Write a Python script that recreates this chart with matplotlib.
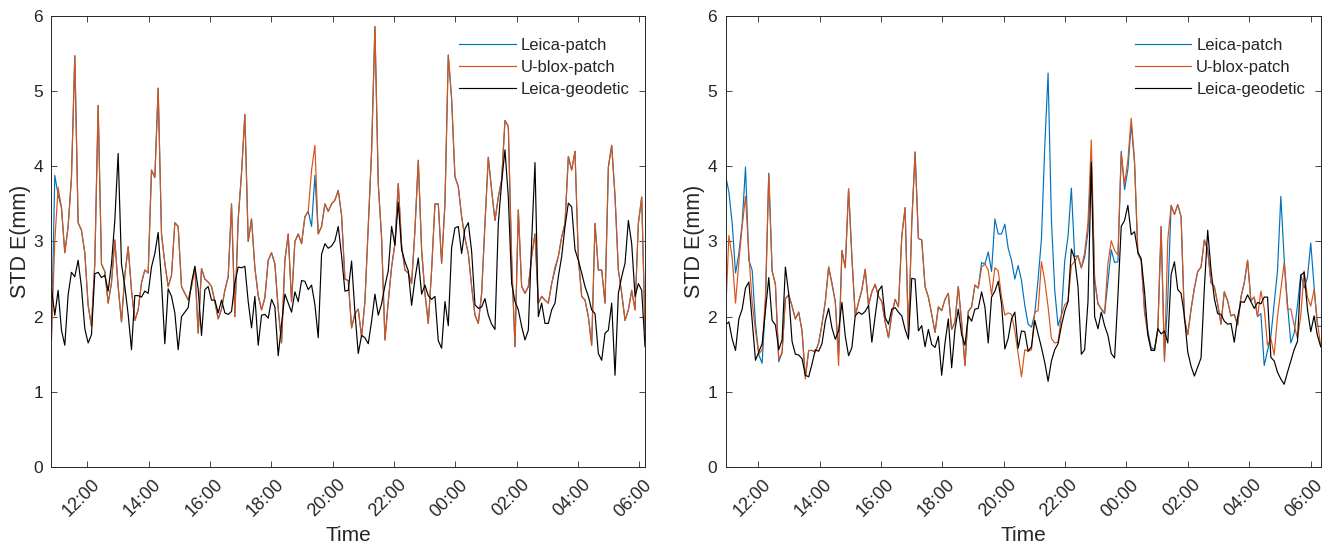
import matplotlib
matplotlib.use("Agg")
import matplotlib.pyplot as plt
import matplotlib.dates as mdates
from matplotlib.transforms import ScaledTranslation
import pandas as pd

plt.rcParams['font.family'] = ['Liberation Sans', 'DejaVu Sans']

series_names = ["Leica-patch", "U-blox-patch", "Leica-geodetic"]
series_colors = ["#0072BD", "#D95319", "#000000"]

# evenly sampled epochs, first and last sample of each session
left_start, left_end = "2021-06-01 10:50", "2021-06-02 06:11"
right_start, right_end = "2021-06-01 10:56", "2021-06-02 06:20"

# ---- session 1 (left panel), STD E in mm ----
ublox_left = [
    1.70, 3.00, 3.72, 3.45, 2.85, 3.20, 3.85, 5.47, 3.25, 3.15, 2.85, 2.15, 1.87, 2.71, 4.81,
    2.70, 2.60, 2.18, 2.45, 3.02, 2.40, 1.93, 2.55, 2.93, 2.35, 1.95, 2.09, 2.45, 2.62, 2.58,
    3.95, 3.85, 5.04, 3.10, 2.71, 2.40, 2.55, 3.25, 3.20, 2.40, 2.31, 2.22, 2.40, 2.66, 1.78,
    2.64, 2.50, 2.46, 2.40, 2.20, 1.97, 2.10, 2.35, 2.53, 3.50, 2.00, 3.30, 3.91, 4.69, 3.00,
    3.30, 2.65, 2.28, 2.09, 2.25, 2.75, 2.85, 2.70, 2.10, 1.65, 2.75, 3.10, 2.20, 3.00, 3.10,
    2.97, 3.33, 3.40, 3.95, 4.28, 3.10, 3.20, 3.50, 3.40, 3.50, 3.55, 3.68, 3.35, 2.50, 2.48,
    1.85, 2.04, 2.10, 1.73, 2.20, 3.20, 4.20, 5.86, 3.77, 3.05, 1.69, 2.20, 2.66, 2.97, 3.77,
    2.95, 2.62, 2.58, 2.44, 3.15, 4.08, 2.89, 2.31, 1.91, 2.62, 3.50, 3.50, 2.71, 3.50, 5.48,
    4.90, 3.86, 3.73, 3.33, 3.04, 2.84, 2.40, 2.02, 1.91, 2.31, 3.24, 4.12, 3.68, 3.28,
    3.59, 3.82, 4.61, 4.53, 2.80, 1.60, 3.42, 2.40, 2.31, 2.40, 2.80, 3.10, 2.18, 2.27, 2.22,
    2.18, 2.44, 2.66, 2.80, 3.06, 3.24, 4.13, 3.95, 4.20, 2.78, 2.27, 2.22, 2.00, 1.62, 3.24,
    2.62, 2.62, 2.18, 3.99, 4.28, 3.60, 2.62, 2.31, 1.95, 2.09, 2.35, 2.09, 3.24, 3.59, 1.82,
]
leica_patch_left = [
    1.70, 3.88, 3.62, 3.45, 2.85, 3.20, 3.85, 5.47, 3.25, 3.15, 2.85, 2.15, 1.87, 2.71, 4.81,
    2.70, 2.60, 2.18, 2.45, 3.02, 2.40, 1.93, 2.55, 2.93, 2.35, 1.95, 2.09, 2.45, 2.62, 2.58,
    3.95, 3.85, 5.04, 3.10, 2.71, 2.40, 2.55, 3.25, 3.20, 2.40, 2.31, 2.22, 2.40, 2.66, 1.78,
    2.64, 2.50, 2.46, 2.40, 2.20, 1.97, 2.10, 2.35, 2.53, 3.50, 2.00, 3.30, 3.91, 4.69, 3.00,
    3.30, 2.65, 2.28, 2.09, 2.25, 2.75, 2.85, 2.70, 2.10, 1.65, 2.75, 3.10, 2.20, 3.00, 3.10,
    2.97, 3.33, 3.40, 3.20, 3.88, 3.10, 3.20, 3.50, 3.40, 3.50, 3.55, 3.68, 3.35, 2.50, 2.48,
    1.85, 2.04, 2.10, 1.73, 2.20, 3.20, 4.20, 5.86, 3.77, 3.05, 1.69, 2.20, 2.66, 2.97, 3.77,
    2.95, 2.62, 2.58, 2.44, 3.15, 4.08, 2.89, 2.31, 1.91, 2.62, 3.50, 3.50, 2.71, 3.50, 5.48,
    4.90, 3.86, 3.73, 3.33, 3.04, 2.84, 2.40, 2.02, 1.91, 2.31, 3.24, 4.12, 3.68, 3.28,
    3.59, 3.82, 4.61, 4.53, 2.72, 1.60, 3.42, 2.40, 2.31, 2.40, 2.80, 3.10, 2.18, 2.27, 2.22,
    2.18, 2.44, 2.62, 2.80, 3.06, 3.24, 4.13, 3.95, 4.20, 2.78, 2.27, 2.22, 2.00, 1.62, 3.24,
    2.62, 2.62, 2.18, 3.99, 4.28, 3.60, 2.62, 2.31, 1.95, 2.09, 2.35, 2.09, 3.24, 3.59, 1.82,
]
geodetic_left = [
    2.38, 2.02, 2.35, 1.82, 1.62, 2.29, 2.59, 2.53, 2.75, 2.39, 1.84, 1.65, 1.76, 2.57, 2.59,
    2.52, 2.55, 2.34, 2.70, 3.28, 4.17, 2.70, 2.40, 2.03, 1.56, 2.28, 2.28, 2.26, 2.34, 2.31,
    2.66, 2.84, 3.12, 2.46, 1.64, 2.37, 2.27, 2.05, 1.56, 2.00, 2.06, 2.12, 2.45, 2.67, 2.37,
    1.75, 2.36, 2.40, 2.22, 2.22, 2.05, 2.22, 2.05, 2.03, 2.07, 2.45, 2.66, 2.65, 2.67, 2.20,
    1.85, 2.27, 1.62, 2.02, 2.03, 1.98, 2.23, 2.13, 1.48, 1.90, 2.30, 2.18, 2.06, 2.33, 2.20,
    2.48, 2.47, 2.36, 2.42, 2.16, 1.72, 2.83, 2.97, 2.91, 2.94, 3.01, 3.20, 2.81, 2.34, 2.35,
    2.74, 2.06, 1.51, 1.75, 1.72, 1.64, 1.94, 2.30, 2.02, 2.17, 2.41, 2.61, 3.20, 2.95, 3.52,
    2.89, 2.73, 2.61, 2.15, 2.50, 2.78, 2.30, 2.42, 2.28, 2.23, 2.27, 1.68, 1.58, 2.20, 1.88,
    2.92, 3.18, 3.20, 2.84, 3.17, 3.25, 2.87, 2.16, 2.11, 2.13, 2.24, 2.02, 1.90, 1.83,
    3.24, 3.79, 4.22, 3.59, 2.44, 2.20, 2.09, 1.87, 1.69, 1.82, 3.00, 4.05, 2.00, 2.18, 1.91,
    1.91, 2.09, 2.18, 2.53, 2.80, 3.20, 3.51, 3.46, 2.89, 2.75, 2.58, 2.40, 2.27, 2.09, 2.04,
    1.51, 1.42, 1.78, 1.82, 2.18, 1.22, 2.31, 2.53, 2.71, 3.28, 2.97, 2.27, 2.44, 2.35, 1.60,
]

# ---- session 2 (right panel), STD E in mm ----
ublox_right = [
    2.00, 3.08, 2.78, 2.18, 2.73, 3.20, 3.60, 2.84, 2.19, 1.81, 1.50, 1.56, 2.27, 3.90, 2.61,
    2.43, 1.43, 1.52, 2.24, 2.29, 2.14, 1.97, 2.06, 1.81, 1.17, 1.55, 1.55, 1.53, 1.65, 1.90,
    2.20, 2.66, 2.43, 2.20, 1.35, 2.88, 2.65, 3.70, 2.79, 2.01, 2.19, 2.36, 2.63, 2.15, 2.33,
    2.43, 2.27, 2.20, 1.93, 1.72, 2.03, 2.23, 2.13, 3.07, 3.45, 1.75, 3.24, 4.19, 3.04, 3.02,
    2.40, 2.26, 2.03, 1.79, 2.13, 2.08, 2.23, 2.31, 1.83, 1.93, 2.40, 1.92, 1.35, 2.07, 2.13,
    2.42, 2.38, 2.66, 2.70, 2.62, 2.29, 2.65, 2.61, 2.26, 2.02, 2.05, 2.03, 1.81, 1.51, 1.20,
    1.56, 1.54, 1.56, 2.06, 2.08, 2.73, 2.48, 2.13, 1.71, 1.65, 1.66, 2.01, 2.16, 2.20, 2.68,
    2.74, 2.81, 2.65, 2.85, 3.25, 4.35, 2.51, 2.17, 2.10, 2.06, 2.71, 3.01, 2.88, 2.82, 4.17,
    3.76, 4.08, 4.64, 4.08, 2.84, 2.75, 2.05, 1.76, 1.56, 1.55, 1.81, 3.20, 1.40, 3.02,
    3.48, 3.36, 3.49, 3.33, 1.97, 1.76, 2.10, 2.38, 2.60, 2.66, 3.02, 2.89, 2.45, 2.40, 2.17,
    1.90, 2.33, 2.21, 2.01, 2.03, 1.89, 2.26, 2.45, 2.75, 2.21, 2.26, 2.00, 2.34, 2.11, 1.62,
    1.71, 1.49, 2.00, 2.36, 2.72, 2.10, 2.10, 1.89, 1.71, 2.01, 2.61, 2.26, 2.14, 2.36, 1.93,
    1.60,
]
leica_patch_right = [
    3.88, 3.66, 3.24, 2.58, 2.84, 3.24, 3.99, 2.75, 2.62, 1.91, 1.49, 1.38, 2.18, 3.91, 2.61,
    2.43, 1.40, 1.52, 2.24, 2.29, 2.14, 1.97, 2.06, 1.81, 1.20, 1.55, 1.55, 1.53, 1.65, 1.90,
    2.20, 2.66, 2.45, 2.20, 1.50, 2.88, 2.65, 3.70, 2.79, 2.01, 2.19, 2.36, 2.63, 2.15, 2.33,
    2.43, 2.27, 2.20, 1.93, 1.72, 2.03, 2.23, 2.13, 3.07, 3.45, 1.75, 3.24, 4.19, 3.04, 3.02,
    2.40, 2.26, 2.03, 1.79, 2.13, 2.08, 2.23, 2.31, 1.83, 1.93, 2.40, 1.92, 1.35, 2.07, 2.13,
    2.42, 2.38, 2.72, 2.70, 2.86, 2.60, 3.30, 3.10, 3.10, 3.23, 2.91, 2.75, 2.50, 2.68, 2.48,
    2.15, 1.90, 1.86, 2.04, 2.50, 3.03, 4.26, 5.24, 3.29, 2.35, 1.88, 2.02, 2.74, 3.07, 3.71,
    2.80, 2.81, 2.65, 2.79, 3.13, 4.08, 2.48, 2.17, 2.10, 2.04, 2.47, 2.89, 2.72, 2.73, 4.20,
    3.69, 3.96, 4.57, 4.04, 2.84, 2.75, 2.11, 1.81, 1.59, 1.56, 1.83, 3.20, 1.43, 2.24,
    3.48, 3.36, 3.49, 3.33, 1.97, 1.76, 2.10, 2.38, 2.60, 2.66, 3.02, 2.89, 2.45, 2.40, 2.17,
    1.90, 2.33, 2.21, 2.01, 2.03, 1.89, 2.26, 2.45, 2.75, 2.21, 2.26, 2.00, 2.04, 1.35, 1.55,
    1.74, 2.17, 2.61, 3.60, 2.77, 2.17, 1.65, 1.78, 2.15, 2.56, 2.38, 2.52, 2.98, 2.40, 1.87,
    1.87,
]
geodetic_right = [
    1.89, 1.93, 1.70, 1.55, 1.97, 2.10, 2.38, 2.46, 1.95, 1.42, 1.53, 1.64, 2.08, 2.52, 1.95,
    1.89, 1.56, 1.69, 2.66, 2.30, 1.67, 1.50, 1.49, 1.44, 1.22, 1.20, 1.37, 1.56, 1.54, 1.64,
    1.94, 2.11, 1.85, 1.70, 1.81, 2.19, 1.74, 1.48, 1.59, 2.01, 2.06, 2.03, 2.07, 2.15, 1.66,
    2.01, 2.34, 2.41, 1.99, 1.90, 2.10, 2.12, 2.06, 2.01, 1.83, 1.70, 2.51, 2.50, 1.81, 1.88,
    1.60, 1.83, 1.63, 1.59, 1.74, 1.22, 1.65, 1.97, 1.32, 1.83, 2.10, 1.76, 1.62, 2.01, 1.94,
    2.10, 2.11, 2.33, 2.13, 1.65, 2.26, 2.34, 2.47, 2.17, 1.57, 1.71, 1.97, 2.06, 1.58, 1.81,
    1.80, 1.54, 1.60, 1.95, 1.77, 1.59, 1.39, 1.14, 1.41, 1.56, 1.64, 1.88, 2.07, 2.20, 2.90,
    2.77, 2.40, 1.50, 1.56, 2.20, 4.05, 2.00, 1.84, 2.06, 1.88, 1.75, 1.51, 1.45, 2.27, 3.20,
    3.28, 3.48, 3.09, 3.13, 2.86, 2.77, 2.34, 1.76, 1.55, 1.55, 1.84, 1.77, 1.81, 1.65,
    2.56, 2.73, 2.36, 2.31, 2.01, 1.53, 1.34, 1.21, 1.33, 1.45, 2.38, 3.15, 2.62, 2.24, 2.04,
    2.03, 1.94, 1.90, 1.91, 1.66, 1.99, 2.20, 2.19, 2.29, 2.20, 2.11, 2.19, 2.17, 2.26, 2.26,
    1.46, 1.41, 1.26, 1.17, 1.10, 1.26, 1.41, 1.56, 1.67, 2.55, 2.59, 2.10, 1.80, 2.01, 1.75,
    1.60,
]

y_ticks = [0, 1, 2, 3, 4, 5, 6]
axis_grey = "#262626"

fig = plt.figure(figsize=(13.33, 5.49), dpi=100)
ax_left = fig.add_axes([0.0386, 0.1494, 0.4453, 0.8215])
ax_right = fig.add_axes([0.5443, 0.1494, 0.4465, 0.8215])


def draw_panel(ax, start, end, patch, ublox, geodetic):
    times = pd.date_range(start, end, periods=len(ublox))
    for vals, name, col in zip([patch, ublox, geodetic], series_names, series_colors):
        ax.plot(times, vals, color=col, lw=0.85, label=name)
    ax.set_xlim(times[0], times[-1])
    ax.set_ylim(0, 6)
    ax.set_yticks(y_ticks)
    ax.xaxis.set_major_locator(mdates.HourLocator(byhour=range(0, 24, 2)))
    ax.xaxis.set_major_formatter(mdates.DateFormatter('%H:%M'))
    ax.tick_params(direction='in', length=4.3, width=0.6, top=True, right=True,
                   labelsize=12.5, colors=axis_grey)
    ax.tick_params(axis='y', pad=6)
    ax.tick_params(axis='x', labelrotation=45, pad=11, labelsize=13)
    for lab in ax.get_xticklabels():
        lab.set_ha('right')
        lab.set_va('center')
        lab.set_rotation_mode('anchor')
    for sp in ax.spines.values():
        sp.set_color(axis_grey)
        sp.set_linewidth(0.7)
    ax.set_xlabel("Time", fontsize=15, color=axis_grey, labelpad=4)
    ax.set_ylabel("STD E(mm)", fontsize=15.5, color=axis_grey, labelpad=2)
    leg = ax.legend(loc='upper left', bbox_to_anchor=(0.662, 0.985), frameon=False,
                    fontsize=12, handlelength=3.4, handletextpad=0.3, labelspacing=0.42)
    for txt in leg.get_texts():
        txt.set_color(axis_grey)


draw_panel(ax_left, left_start, left_end, leica_patch_left, ublox_left, geodetic_left)
draw_panel(ax_right, right_start, right_end, leica_patch_right, ublox_right, geodetic_right)

# the rotated hour labels sit a little to the right of their ticks
fig.canvas.draw()
shift = ScaledTranslation(0.10, 0, fig.dpi_scale_trans)
for ax in (ax_left, ax_right):
    for lab in ax.get_xticklabels():
        lab.set_transform(lab.get_transform() + shift)

fig.savefig("out.png", dpi=100)
